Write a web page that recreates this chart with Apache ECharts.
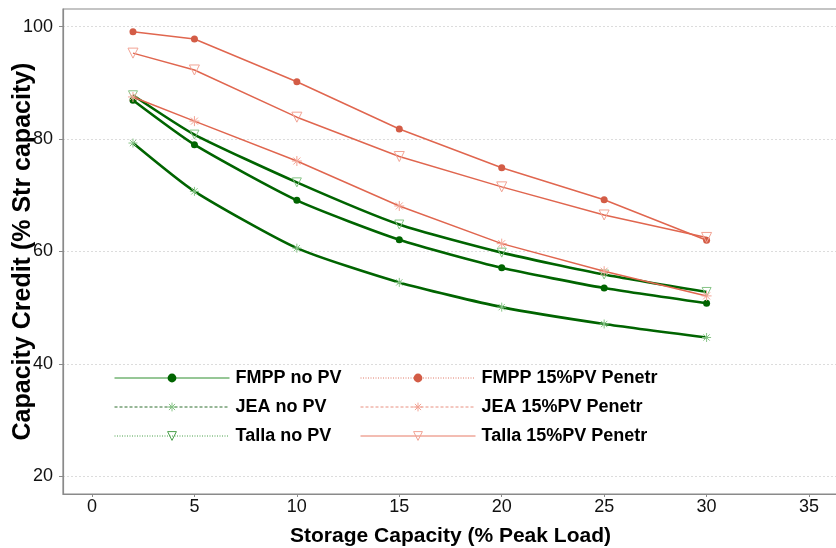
<!DOCTYPE html>
<html>
<head>
<meta charset="utf-8">
<script src="https://cdn.jsdelivr.net/npm/echarts@6/dist/echarts.min.js"></script>
<style>
  html, body { margin: 0; padding: 0; background: #fff; }
  #chart { width: 836px; height: 548px; }
</style>
</head>
<body>
<div id="chart"></div>
<script>
// Storage capacity (% of peak load) on the x axis
const storage = [2, 5, 10, 15, 20, 25, 30];

// Capacity credit (% of storage capacity), no PV
const fmppNoPV  = [86.9, 79.0, 69.1, 62.1, 57.1, 53.5, 50.8];
const jeaNoPV   = [79.3, 70.7, 60.6, 54.5, 50.1, 47.1, 44.7];
const tallaNoPV = [87.8, 80.8, 72.3, 64.8, 59.8, 55.9, 52.8];

// Capacity credit with 15% PV penetration
const fmppPV  = [99.1, 97.8, 90.2, 81.8, 74.9, 69.2, 62.0];
const jeaPV   = [87.5, 83.2, 76.1, 68.1, 61.4, 56.5, 52.1];
const tallaPV = [95.3, 92.3, 83.9, 76.9, 71.5, 66.5, 62.5];

// Tick labels
const xTicks = [0, 5, 10, 15, 20, 25, 30, 35];
const yTicks = [20, 40, 60, 80, 100];

const seriesNames = [
  'FMPP no PV', 'JEA no PV', 'Talla no PV',
  'FMPP 15%PV Penetr', 'JEA 15%PV Penetr', 'Talla 15%PV Penetr'
];

const GREEN = '#006400';
const LIGHT_GREEN = '#86c486';
const RED_LINE = '#e0664f';
const RED_DOT = '#d35c46';
const PINK = '#f2a394';
const FONT = 'Liberation Sans, Arial, sans-serif';

const ASTERISK = 'path://M5,0L5,10M0,5L10,5M1.5,1.5L8.5,8.5M8.5,1.5L1.5,8.5';
const TRI_DOWN = 'path://M0,0L10,0L5,8.66Z';

function pairs(vals) {
  return storage.map((x, i) => [x, vals[i]]);
}

function lineSeries(name, vals, opts) {
  return {
    name: name,
    type: 'line',
    data: pairs(vals),
    symbol: opts.symbol,
    symbolSize: opts.size,
    smooth: opts.smooth || false,
    lineStyle: { color: opts.line, width: opts.width },
    itemStyle: opts.item,
    emphasis: { disabled: true },
    z: opts.z
  };
}

const series = [
  lineSeries(seriesNames[0], fmppNoPV, {
    symbol: 'circle', size: 7, line: GREEN, width: 2.6, smooth: 0.2, z: 3,
    item: { color: GREEN }
  }),
  lineSeries(seriesNames[1], jeaNoPV, {
    symbol: ASTERISK, size: 9, line: GREEN, width: 2.6, smooth: 0.2, z: 3,
    item: { color: 'rgba(0,0,0,0)', borderColor: LIGHT_GREEN, borderWidth: 1 }
  }),
  lineSeries(seriesNames[2], tallaNoPV, {
    symbol: TRI_DOWN, size: 9, line: GREEN, width: 2.6, smooth: 0.2, z: 3,
    item: { color: 'rgba(0,0,0,0)', borderColor: LIGHT_GREEN, borderWidth: 1 }
  }),
  lineSeries(seriesNames[3], fmppPV, {
    symbol: 'circle', size: 7, line: RED_LINE, width: 1.5, z: 4,
    item: { color: RED_DOT }
  }),
  lineSeries(seriesNames[4], jeaPV, {
    symbol: ASTERISK, size: 10, line: RED_LINE, width: 1.5, z: 4,
    item: { color: 'rgba(0,0,0,0)', borderColor: PINK, borderWidth: 1 }
  }),
  lineSeries(seriesNames[5], tallaPV, {
    symbol: TRI_DOWN, size: 10, line: RED_LINE, width: 1.5, z: 4,
    item: { color: 'rgba(0,0,0,0)', borderColor: PINK, borderWidth: 1 }
  })
];

const legendText = {
  fontSize: 18, fontWeight: 'bold', color: '#000',
  fontFamily: FONT,
  padding: [0, 0, 0, 1]
};

function legendBlock(left, items) {
  return {
    orient: 'vertical',
    left: left,
    top: 364,
    itemWidth: 115,
    itemHeight: 11,
    itemGap: 11,
    selectedMode: false,
    textStyle: legendText,
    data: items
  };
}

const option = {
  backgroundColor: '#fff',
  animation: false,
  grid: {
    left: 63, top: 9, right: -2, bottom: 54,
    show: true, borderColor: '#8a8a8a', borderWidth: 1.2,
    containLabel: false,
    outerBoundsMode: 'none'
  },
  legend: [
    legendBlock(109, [
      { name: seriesNames[0], lineStyle: { color: '#2f8f2f', width: 1, type: 'solid' }, itemStyle: { color: GREEN } },
      { name: seriesNames[1], lineStyle: { color: '#2f6f2f', width: 1, type: [3, 2] }, itemStyle: { color: 'rgba(0,0,0,0)', borderColor: LIGHT_GREEN, borderWidth: 1 } },
      { name: seriesNames[2], lineStyle: { color: '#4aa04a', width: 1, type: [1, 1.5] }, itemStyle: { color: 'rgba(0,0,0,0)', borderColor: '#4aa04a', borderWidth: 1 } }
    ]),
    legendBlock(355, [
      { name: seriesNames[3], lineStyle: { color: '#e07a68', width: 1, type: [1, 1.5] }, itemStyle: { color: RED_DOT } },
      { name: seriesNames[4], lineStyle: { color: '#e89080', width: 1, type: [3, 2] }, itemStyle: { color: 'rgba(0,0,0,0)', borderColor: PINK, borderWidth: 1 } },
      { name: seriesNames[5], lineStyle: { color: '#e77a66', width: 1, type: 'solid' }, itemStyle: { color: 'rgba(0,0,0,0)', borderColor: PINK, borderWidth: 1 } }
    ])
  ],
  xAxis: {
    type: 'value',
    min: -1.416,
    max: 36.415,
    name: 'Storage Capacity (% Peak Load)',
    nameLocation: 'middle',
    nameGap: 32,
    nameMoveOverlap: false,
    nameTextStyle: { fontSize: 21, fontWeight: 'bold', color: '#000', fontFamily: FONT },
    axisLine: { show: true, onZero: false, lineStyle: { color: '#8a8a8a', width: 1.2 } },
    axisTick: { show: true, length: 3, lineStyle: { color: '#8a8a8a' }, customValues: xTicks },
    axisLabel: {
      customValues: xTicks,
      fontSize: 18, color: '#111', margin: 4,
      fontFamily: FONT
    },
    splitLine: { show: false }
  },
  yAxis: {
    type: 'value',
    min: 16.85,
    max: 103.15,
    name: 'Capacity Credit (% Str capacity)',
    nameLocation: 'middle',
    nameGap: 27,
    nameMoveOverlap: false,
    nameTextStyle: { fontSize: 25, fontWeight: 'bold', color: '#000', fontFamily: FONT },
    axisLine: { show: true, onZero: false, lineStyle: { color: '#8a8a8a', width: 1.2 } },
    axisTick: { show: true, length: 4, lineStyle: { color: '#8a8a8a' }, customValues: yTicks },
    axisLabel: {
      customValues: yTicks,
      fontSize: 18, color: '#111', margin: 10,
      fontFamily: FONT
    },
    splitLine: { show: true, lineStyle: { color: '#dcdcdc', width: 1, type: [2, 2] } }
  },
  series: series
};

const chart = echarts.init(document.getElementById('chart'), null, { renderer: 'canvas' });
chart.setOption(option);
</script>
</body>
</html>
